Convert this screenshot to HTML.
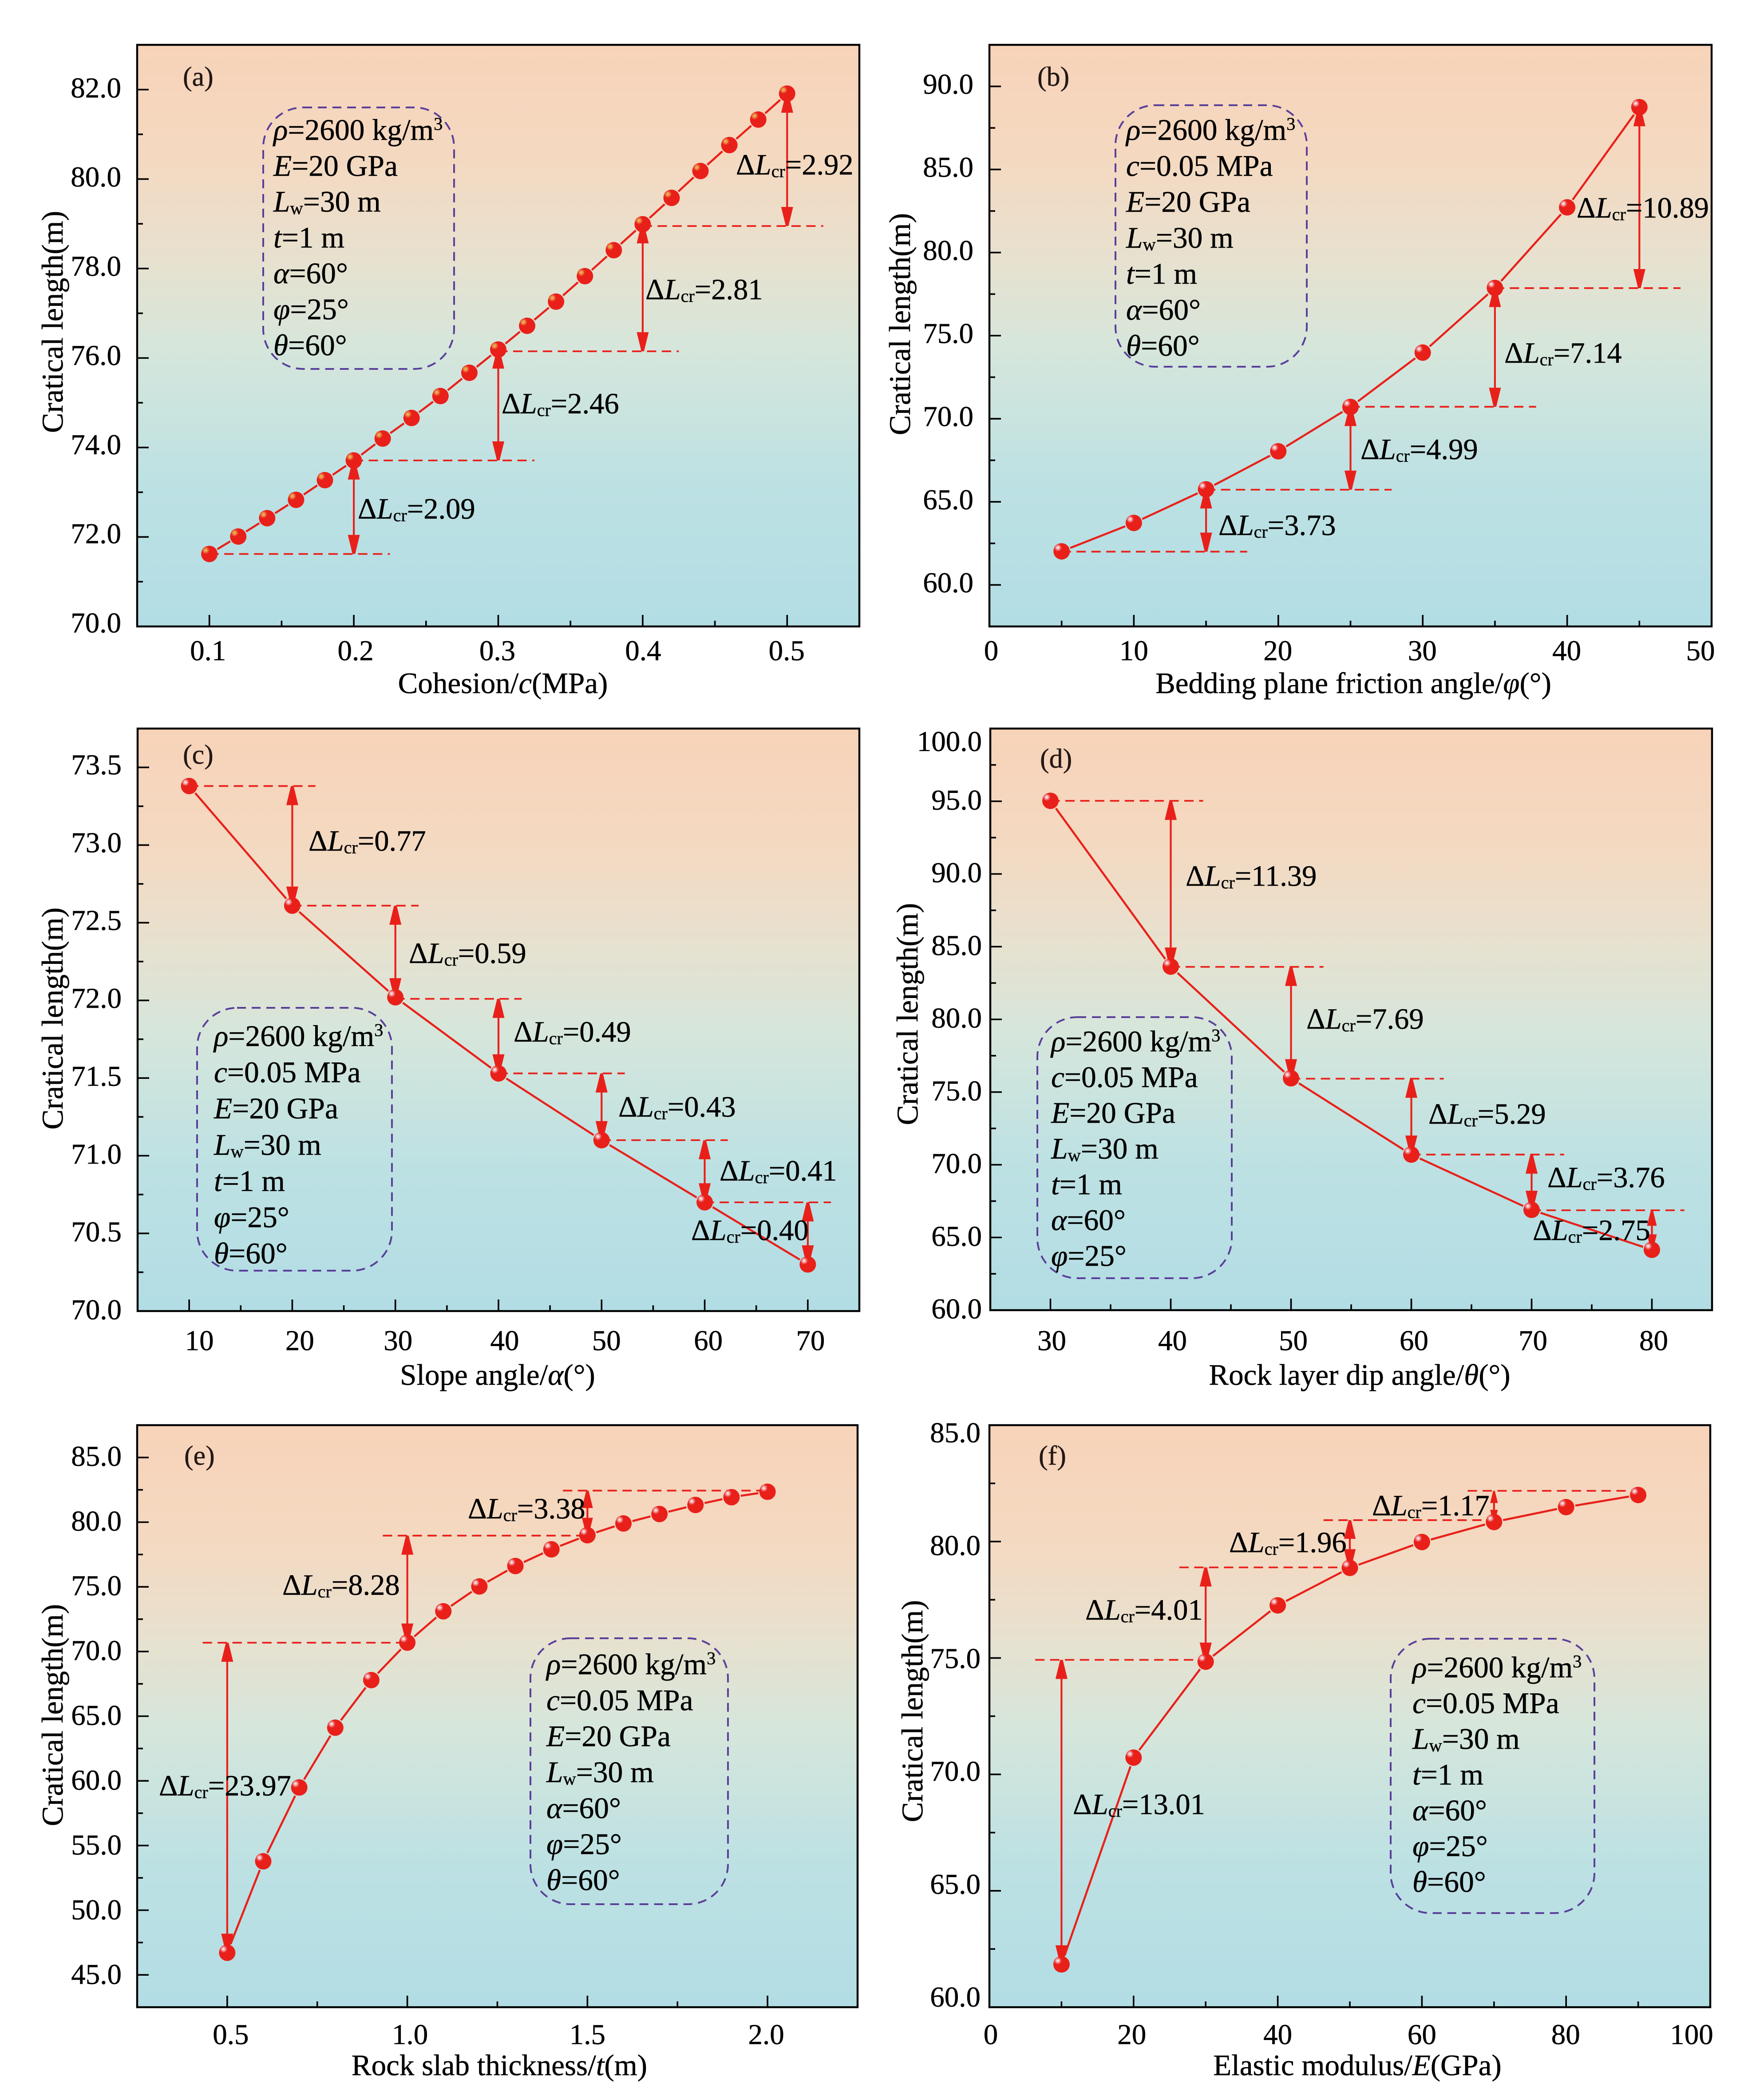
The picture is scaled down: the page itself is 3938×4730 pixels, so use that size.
<!DOCTYPE html>
<html lang="en">
<head>
<meta charset="utf-8">
<title>Critical length parameter study</title>
<style>
html,body{margin:0;padding:0;background:#fff;}
svg{display:block;}
text{font-family:"Liberation Serif","DejaVu Serif",serif;fill:#000;stroke:#000;stroke-width:0.5px;text-rendering:geometricPrecision;}
</style>
</head>
<body>
<svg id="figure" xmlns="http://www.w3.org/2000/svg" width="3938" height="4730" viewBox="0 0 3938 4730">
<defs>
<linearGradient id="plotBg" x1="0" y1="0" x2="0" y2="1">
<stop offset="0" stop-color="#f7d3b9"/>
<stop offset="0.2" stop-color="#f4d9c1"/>
<stop offset="0.37" stop-color="#e7e1cf"/>
<stop offset="0.52" stop-color="#d6e6db"/>
<stop offset="0.75" stop-color="#bde1e3"/>
<stop offset="1" stop-color="#b2dde4"/>
</linearGradient>
<radialGradient id="ballYellow" cx="0.36" cy="0.36" r="0.36">
<stop offset="0" stop-color="#e9c35f"/>
<stop offset="0.45" stop-color="#ec8a45"/>
<stop offset="1" stop-color="#e9201a"/>
</radialGradient>
<radialGradient id="ballPink" cx="0.36" cy="0.36" r="0.36">
<stop offset="0" stop-color="#ffffff"/>
<stop offset="0.45" stop-color="#f2a0a4"/>
<stop offset="1" stop-color="#e9201a"/>
</radialGradient>
</defs>
</svg>
<script>
/* ---------- panel (a) ---------- */
const aX = [0.10,0.12,0.14,0.16,0.18,0.20,0.22,0.24,0.26,0.28,0.30,0.32,0.34,0.36,0.38,0.40,0.42,0.44,0.46,0.48,0.50];
const aY = [71.62,72.01,72.42,72.83,73.27,73.71,74.20,74.66,75.15,75.67,76.19,76.72,77.26,77.83,78.41,78.99,79.58,80.18,80.76,81.33,81.91];
const aSteps = [0,5,10,15,20];
const aLevels = [71.62,73.71,76.15,78.95];
const aDeltas = ["2.09","2.46","2.81","2.92"];
const aXTicks = [0.1,0.2,0.3,0.4,0.5];
const aXTickLabels = ["0.1","0.2","0.3","0.4","0.5"];
const aXMinor = [0.15,0.25,0.35,0.45];
const aYTicks = [70,72,74,76,78,80,82];
const aYTickLabels = ["70.0","72.0","74.0","76.0","78.0","80.0","82.0"];
const aYMinor = [71,73,75,77,79,81];

/* ---------- panel (b) ---------- */
const bX = [5,10,15,20,25,30,35,40,45];
const bY = [62.02,63.73,65.75,68.04,70.71,73.98,77.87,82.72,88.75];
const bSteps = [0,2,4,6,8];
const bLevels = [62.0,65.73,70.72,77.86];
const bDeltas = ["3.73","4.99","7.14","10.89"];
const bXTicks = [0,10,20,30,40,50];
const bXTickLabels = ["0","10","20","30","40","50"];
const bXMinor = [5,15,25,35,45];
const bYTicks = [60,65,70,75,80,85,90];
const bYTickLabels = ["60.0","65.0","70.0","75.0","80.0","85.0","90.0"];
const bYMinor = [62.5,67.5,72.5,77.5,82.5,87.5];

/* ---------- panel (c) ---------- */
const cX = [10,20,30,40,50,60,70];
const cY = [73.38,72.61,72.02,71.53,71.10,70.70,70.30];
const cSteps = [0,1,2,3,4,5,6];
const cLevels = [73.38,72.61,72.01,71.53,71.10,70.70];
const cDeltas = ["0.77","0.59","0.49","0.43","0.41","0.40"];
const cXTicks = [10,20,30,40,50,60,70];
const cXTickLabels = ["10","20","30","40","50","60","70"];
const cXMinor = [15,25,35,45,55,65];
const cYTicks = [70,70.5,71,71.5,72,72.5,73,73.5];
const cYTickLabels = ["70.0","70.5","71.0","71.5","72.0","72.5","73.0","73.5"];
const cYMinor = [70.25,70.75,71.25,71.75,72.25,72.75,73.25];

/* ---------- panel (d) ---------- */
const dX = [30,40,50,60,70,80];
const dY = [95.03,83.63,75.95,70.70,66.90,64.15];
const dSteps = [0,1,2,3,4,5];
const dLevels = [95.03,83.61,75.92,70.70,66.87];
const dDeltas = ["11.39","7.69","5.29","3.76","2.75"];
const dXTicks = [30,40,50,60,70,80];
const dXTickLabels = ["30","40","50","60","70","80"];
const dXMinor = [35,45,55,65,75];
const dYTicks = [60,65,70,75,80,85,90,95,100];
const dYTickLabels = ["60.0","65.0","70.0","75.0","80.0","85.0","90.0","95.0","100.0"];
const dYMinor = [62.5,67.5,72.5,77.5,82.5,87.5,92.5,97.5];

/* ---------- panel (e) ---------- */
const eX = [0.5,0.6,0.7,0.8,0.9,1.0,1.1,1.2,1.3,1.4,1.5,1.6,1.7,1.8,1.9,2.0];
const eY = [46.71,53.78,59.49,64.11,67.79,70.69,73.11,75.03,76.61,77.90,78.99,79.90,80.63,81.33,81.93,82.35];
const eSteps = [0,5,10,15];
const eLevels = [70.68,78.96,82.44];
const eDeltas = ["23.97","8.28","3.38"];
const eXTicks = [0.5,1.0,1.5,2.0];
const eXTickLabels = ["0.5","1.0","1.5","2.0"];
const eXMinor = [0.75,1.25,1.75];
const eYTicks = [45,50,55,60,65,70,75,80,85];
const eYTickLabels = ["45.0","50.0","55.0","60.0","65.0","70.0","75.0","80.0","85.0"];
const eYMinor = [47.5,52.5,57.5,62.5,67.5,72.5,77.5,82.5];

/* ---------- panel (f) ---------- */
const fX = [10,20,30,40,50,60,70,80,90];
const fY = [61.84,70.72,74.84,77.26,78.87,79.98,80.84,81.48,82.00];
const fSteps = [0,2,4,6,8];
const fLevels = [74.92,78.89,80.92,82.18];
const fDeltas = ["13.01","4.01","1.96","1.17"];
const fXTicks = [0,20,40,60,80,100];
const fXTickLabels = ["0","20","40","60","80","100"];
const fXMinor = [10,30,50,70,90];
const fYTicks = [60,65,70,75,80,85];
const fYTickLabels = ["60.0","65.0","70.0","75.0","80.0","85.0"];
const fYMinor = [62.5,67.5,72.5,77.5,82.5];

/* ---------- parameter text (*italic*, ~sub~, ^sup^) ---------- */
const pRho = "*ρ*=2600 kg/m^3^";
const pC = "*c*=0.05 MPa";
const pE = "*E*=20 GPa";
const pL = "*L*~w~=30 m";
const pT = "*t*=1 m";
const pA = "*α*=60°";
const pPhi = "*φ*=25°";
const pTh = "*θ*=60°";

const panels = [
 {id:"a",fr:[309,101,1936,1411],xlim:[0.05,0.55],ylim:[70,83],x:aX,y:aY,steps:aSteps,levels:aLevels,deltas:aDeltas,
  xt:aXTicks,xl:aXTickLabels,xm:aXMinor,yt:aYTicks,yl:aYTickLabels,ym:aYMinor,mode:"right",over:0.025,ball:"ballYellow",
  xNudge:[-3,4,-2,1,-1],xBase:1487,yRight:273,yShift:[-4,-8],topExtra:0,
  xTitle:"Cohesion/*c*(MPa)",xTitlePos:[1133,1561],yTitlePos:[141,725],tag:[412,193],
  box:[593,242,1023,831],lines:[pRho,pE,pL,pT,pA,pPhi,pTh],lx:616,ly0:315,ldy:80.8,
  notes:[[806,1168],[1130,931],[1454,674],[1658,393]]},
 {id:"b",fr:[2229,101,3856,1411],xlim:[0,50],ylim:[57.5,92.5],x:bX,y:bY,steps:bSteps,levels:bLevels,deltas:bDeltas,
  xt:bXTicks,xl:bXTickLabels,xm:bXMinor,yt:bYTicks,yl:bYTickLabels,ym:bYMinor,mode:"right",over:2.85,ball:"ballPink",
  xNudge:[4,0,-1,-1,-1,-25],xBase:1487,yRight:2193,yShift:[-5,-5],topExtra:0,
  xTitle:"Bedding plane friction angle/*φ*(°)",xTitlePos:[3049,1561],yTitlePos:[2050,730],tag:[2337,193],
  box:[2513,237,2944,826],lines:[pRho,pC,pE,pL,pT,pA,pTh],lx:2537,ly0:315,ldy:81,
  notes:[[2745,1205],[3065,1034],[3389,817],[3552,490]]},
 {id:"c",fr:[310,1641,1936,2953],xlim:[5,75],ylim:[70,73.75],x:cX,y:cY,steps:cSteps,levels:cLevels,deltas:cDeltas,
  xt:cXTicks,xl:cXTickLabels,xm:cXMinor,yt:cYTicks,yl:cYTickLabels,ym:cYMinor,mode:"right",over:2.25,ball:"ballPink",
  xNudge:[23,17,6,14,11,8,6],xBase:3041,yRight:274,yShift:[-6,-3],topExtra:0,
  xTitle:"Slope angle/*α*(°)",xTitlePos:[1121,3119],yTitlePos:[141,2294],tag:[412,1720],
  box:[444,2270,883,2862],lines:[pRho,pC,pE,pL,pT,pPhi,pTh],lx:482,ly0:2356,ldy:81.6,
  notes:[[695,1916],[921,2169],[1157,2346],[1393,2515],[1621,2659],[1557,2793]]},
 {id:"d",fr:[2231,1641,3857,2951],xlim:[25,85],ylim:[60,100],x:dX,y:dY,steps:dSteps,levels:dLevels,deltas:dDeltas,
  xt:dXTicks,xl:dXTickLabels,xm:dXMinor,yt:dYTicks,yl:dYTickLabels,ym:dYMinor,mode:"right",over:2.7,ball:"ballPink",
  xNudge:[3,4,5,6,3,4],xBase:3041,yRight:2212,yShift:[-3,-3],topExtra:32,
  xTitle:"Rock layer dip angle/*θ*(°)",xTitlePos:[3063,3119],yTitlePos:[2067,2284],tag:[2343,1729],
  box:[2337,2291,2775,2879],lines:[pRho,pC,pE,pL,pT,pA,pPhi],lx:2368,ly0:2368,ldy:80.5,
  notes:[[2671,1995],[2943,2317],[3218,2531],[3486,2674],[3453,2793]]},
 {id:"e",fr:[309,3210,1932,4521],xlim:[0.25,2.25],ylim:[42.5,87.5],x:eX,y:eY,steps:eSteps,levels:eLevels,deltas:eDeltas,
  xt:eXTicks,xl:eXTickLabels,xm:eXMinor,yt:eYTicks,yl:eYTickLabels,ym:eYMinor,mode:"left",over:0.068,ball:"ballPink",
  xNudge:[8,6,0,-3],xBase:4604,yRight:274,yShift:[-3,-1],topExtra:0,
  xTitle:"Rock slab thickness/*t*(m)",xTitlePos:[1125,4674],yTitlePos:[141,3863],tag:[415,3299],
  box:[1195,3690,1640,4289],lines:[pRho,pC,pE,pL,pA,pPhi,pTh],lx:1231,ly0:3771,ldy:81,
  notes:[[358,4044],[636,3592],[1054,3420]]},
 {id:"f",fr:[2229,3210,3853,4521],xlim:[0,100],ylim:[60,85],x:fX,y:fY,steps:fSteps,levels:fLevels,deltas:fDeltas,
  xt:fXTicks,xl:fXTickLabels,xm:fXMinor,yt:fYTicks,yl:fYTickLabels,ym:fYMinor,mode:"left",over:3.65,ball:"ballPink",
  xNudge:[3,-4,0,0,-1,-42],xBase:4604,yRight:2209,yShift:[17,-23],topExtra:0,
  xTitle:"Elastic modulus/*E*(GPa)",xTitlePos:[3058,4674],yTitlePos:[2078,3854],tag:[2340,3299],
  box:[3133,3691,3592,4309],lines:[pRho,pC,pL,pT,pA,pPhi,pTh],lx:3182,ly0:3778,ldy:80.5,
  notes:[[2417,4086],[2445,3648],[2769,3496],[3091,3413]]}
];

const RED = "#e9201a";
const NS = "http://www.w3.org/2000/svg";
const root = document.getElementById("figure");

function mk(tag, attrs, parent){
  const el = document.createElementNS(NS, tag);
  for (const k in attrs) el.setAttribute(k, attrs[k]);
  parent.appendChild(el);
  return el;
}

/* mini-markup: *italic*, ~subscript~, ^superscript^ */
function rich(el, str, size){
  const parts = str.split(/(\*[^*]+\*|~[^~]+~|\^[^^]+\^)/).filter(Boolean);
  let shift = 0;
  parts.forEach(function(p){
    const head = p[0];
    let target = 0, txt = p, attrs = {};
    if (head === "*"){ txt = p.slice(1,-1); attrs["font-style"] = "italic"; }
    else if (head === "~"){ txt = p.slice(1,-1); target = size*0.09; attrs["font-size"] = size*0.6; }
    else if (head === "^"){ txt = p.slice(1,-1); target = -size*0.33; attrs["font-size"] = size*0.6; }
    if (target !== shift){ attrs["dy"] = target - shift; shift = target; }
    const ts = mk("tspan", attrs, el);
    ts.textContent = txt;
  });
}

function drawPanel(p){
  const L = p.fr[0], T = p.fr[1], R = p.fr[2], B = p.fr[3];
  const sx = function(v){ return L + (v - p.xlim[0]) / (p.xlim[1] - p.xlim[0]) * (R - L); };
  const sy = function(v){ return B - (v - p.ylim[0]) / (p.ylim[1] - p.ylim[0]) * (B - T); };

  const g = mk("g", {}, root);
  
  

  const bg = mk("rect", {x:L, y:T, width:R-L, height:B-T, fill:"url(#plotBg)"}, g);
  
  

  /* ticks */
  p.xt.forEach(function(v, i){
    const x = sx(v);
    const t = mk("line", {x1:x, x2:x, y1:B, y2:B-26, stroke:"#000", "stroke-width":3.6}, g);
    
    
    const lb = mk("text", {x:x + p.xNudge[i], y:p.xBase, "font-size":65, "text-anchor":"middle"}, g);
    lb.textContent = p.xl[i];
    
    
  });
  p.xm.forEach(function(v){
    const x = sx(v);
    const t = mk("line", {x1:x, x2:x, y1:B, y2:B-13, stroke:"#000", "stroke-width":3.6}, g);
    
    
  });
  const n = p.yt.length;
  p.yt.forEach(function(v, i){
    const y = sy(v);
    const t = mk("line", {x1:L, x2:L+26, y1:y, y2:y, stroke:"#000", "stroke-width":3.6}, g);
    
    
    const frac = n > 1 ? i/(n-1) : 0;
    let shift = p.yShift[1] + (p.yShift[0] - p.yShift[1]) * frac;
    if (i === n-1) shift += p.topExtra;
    const lb = mk("text", {x:p.yRight, y:y + shift + 21.5, "font-size":65, "text-anchor":"end"}, g);
    lb.textContent = p.yl[i];
    
    
  });
  p.ym.forEach(function(v){
    const y = sy(v);
    const t = mk("line", {x1:L, x2:L+13, y1:y, y2:y, stroke:"#000", "stroke-width":3.6}, g);
    
    
  });

  /* reference dashes and arrows */
  for (let i = 0; i < p.levels.length; i++){
    const a = p.steps[i], b = p.steps[i+1];
    const lvl = p.levels[i];
    let x1, x2, ax, ay1, ay2;
    if (p.mode === "right"){
      x1 = sx(p.x[a]); x2 = sx(p.x[b] + p.over);
      ax = sx(p.x[b]); ay1 = sy(lvl); ay2 = sy(p.y[b]);
    } else {
      x1 = sx(p.x[a] - p.over); x2 = sx(p.x[b]);
      ax = sx(p.x[a]); ay1 = sy(p.y[a]); ay2 = sy(lvl);
    }
    const dash = mk("line", {x1:x1, x2:x2, y1:sy(lvl), y2:sy(lvl), stroke:RED, "stroke-width":3.8, "stroke-dasharray":"21 12.5"}, g);
    
    

    const top = Math.min(ay1, ay2), bot = Math.max(ay1, ay2);
    const len = bot - top;
    const k = Math.min(1, len/110);
    const hl = 43*k, hw = 13.5*k, tw = 3*k;
    const arrowLine = mk("line", {x1:ax, x2:ax, y1:top + hl*0.8, y2:bot - hl*0.8, stroke:RED, "stroke-width":4.2}, g);
    
    
    const upHead = mk("polygon", {points:(ax-tw)+","+top+" "+(ax+tw)+","+top+" "+(ax+hw)+","+(top+hl)+" "+(ax-hw)+","+(top+hl), fill:RED}, g);
    
    
    const downHead = mk("polygon", {points:(ax-tw)+","+bot+" "+(ax+tw)+","+bot+" "+(ax+hw)+","+(bot-hl)+" "+(ax-hw)+","+(bot-hl), fill:RED}, g);
    
    
  }

  /* data line: segments stop just short of the markers */
  const r = 18.5, gap = 2.5;
  for (let i = 0; i < p.x.length-1; i++){
    const x1 = sx(p.x[i]), y1 = sy(p.y[i]), x2 = sx(p.x[i+1]), y2 = sy(p.y[i+1]);
    const d = Math.hypot(x2-x1, y2-y1);
    const ux = (x2-x1)/d, uy = (y2-y1)/d;
    const seg = mk("line", {x1:x1+ux*(r+gap), y1:y1+uy*(r+gap), x2:x2-ux*(r+gap), y2:y2-uy*(r+gap), stroke:RED, "stroke-width":4.6}, g);
    
    
  }
  p.x.forEach(function(v, i){
    const cx = sx(v), cy = sy(p.y[i]);
    const base = mk("circle", {cx:cx, cy:cy, r:r, fill:RED}, g);
    
    
    const glow = mk("circle", {cx:cx-5, cy:cy-5, r:12, fill:"url(#" + p.ball + ")"}, g);
    
    
  });

  /* delta labels */
  p.deltas.forEach(function(val, i){
    const t = mk("text", {x:p.notes[i][0], y:p.notes[i][1], "font-size":66.5}, g);
    rich(t, "Δ*L*~cr~=" + val, 66.5);
    
    
  });

  /* parameter box */
  const box = mk("rect", {x:p.box[0], y:p.box[1], width:p.box[2]-p.box[0], height:p.box[3]-p.box[1], rx:90, ry:90, fill:"none", stroke:"#5a3f99", "stroke-width":4, "stroke-dasharray":"20 13"}, g);
  
  
  p.lines.forEach(function(s, i){
    const t = mk("text", {x:p.lx, y:p.ly0 + i*p.ldy, "font-size":67.5}, g);
    rich(t, s, 67.5);
    
    
  });

  /* panel tag and axis titles */
  const tag = mk("text", {x:p.tag[0], y:p.tag[1], "font-size":62, style:"fill:#231815;stroke:#231815"}, g);
  tag.textContent = "(" + p.id + ")";
  
  

  const xt = mk("text", {x:p.xTitlePos[0], y:p.xTitlePos[1], "font-size":67, "text-anchor":"middle"}, g);
  rich(xt, p.xTitle, 67);
  
  

  const yt = mk("text", {x:0, y:0, "font-size":68, "text-anchor":"middle", transform:"translate(" + p.yTitlePos[0] + " " + p.yTitlePos[1] + ") rotate(-90)"}, g);
  yt.textContent = "Cratical length(m)";
  
  

  const frame = mk("rect", {x:L, y:T, width:R-L, height:B-T, fill:"none", stroke:"#000", "stroke-width":4.4}, g);
  
  
}

panels.forEach(drawPanel);
</script>
</body>
</html>
